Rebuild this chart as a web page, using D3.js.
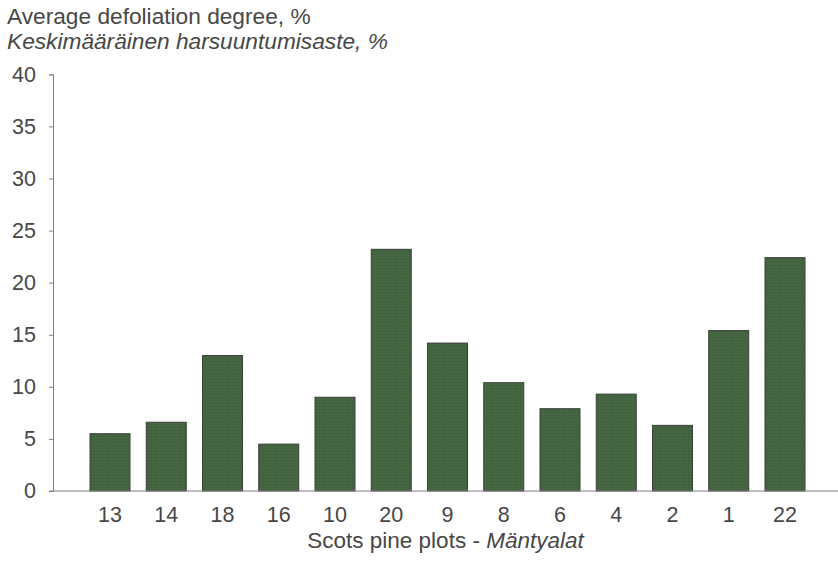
<!DOCTYPE html>
<html>
<head>
<meta charset="utf-8">
<script src="https://cdn.jsdelivr.net/npm/d3@7"></script>
<style>
  html, body { margin: 0; padding: 0; background: #fff; }
  svg { display: block; }
  text { font-family: "Liberation Sans", Arial, sans-serif; fill: #474747; }
</style>
</head>
<body>
<svg id="chart" width="838" height="562"></svg>
<script>
// Plot identifiers along the category axis
const plots = ["13", "14", "18", "16", "10", "20", "9", "8", "6", "4", "2", "1", "22"];
// Average defoliation degree (%) per plot
const defoliation = [5.5, 6.6, 13.0, 4.5, 9.0, 23.2, 14.2, 10.4, 7.9, 9.3, 6.3, 15.4, 22.4];
// Value axis ticks
const yTicks = [0, 5, 10, 15, 20, 25, 30, 35, 40];

const titleLines = ["Average defoliation degree, %", "Keskimääräinen harsuuntumisaste, %"];
const xTitle = "Scots pine plots - ";
const xTitleFi = "Mäntyalat";

const svg = d3.select("#chart");

const axisLeft = 53, axisRight = 838;
const y = d3.scaleLinear().domain([0, 40]).range([491, 74.3]);
const x = d3.scaleBand().domain(plots).range([73.75, 821.25]).padding(0.289);

// Fine dotted texture for the bars
const defs = svg.append("defs");
const pat = defs.append("pattern")
  .attr("id", "barTex").attr("patternUnits", "userSpaceOnUse")
  .attr("width", 3).attr("height", 3);
pat.append("rect").attr("width", 3).attr("height", 3).attr("fill", "#456640");
pat.append("rect").attr("x", 1).attr("y", 1).attr("width", 1).attr("height", 1).attr("fill", "#37553a");

// Titles
svg.append("text").attr("x", 7).attr("y", 24).style("font-size", "22.7px").text(titleLines[0]);
svg.append("text").attr("x", 7).attr("y", 48.5).style("font-size", "22.7px").style("font-style", "italic").text(titleLines[1]);

// Bars
svg.append("g").selectAll("rect")
  .data(plots.map((p, i) => ({ p, v: defoliation[i] })))
  .join("rect")
  .attr("x", d => x(d.p))
  .attr("width", x.bandwidth())
  .attr("y", d => y(d.v))
  .attr("height", d => y(0) - y(d.v))
  .attr("fill", "url(#barTex)")
  .attr("stroke", "#3a3f3a")
  .attr("stroke-width", 1);

// Value axis
const yAxis = svg.append("g")
  .attr("transform", `translate(${axisLeft},0)`)
  .call(d3.axisLeft(y).tickValues(yTicks).tickSize(4).tickPadding(13));
yAxis.select(".domain").attr("stroke", "#808080");
yAxis.selectAll(".tick line").attr("stroke", "#808080");
yAxis.selectAll(".tick text").style("font-size", "21.5px").style("font-family", "'Liberation Sans', Arial, sans-serif").attr("fill", "#474747");

// Category axis line spanning the whole plot
svg.append("line")
  .attr("x1", axisLeft - 4).attr("x2", axisRight)
  .attr("y1", y(0)).attr("y2", y(0))
  .attr("stroke", "#808080").attr("stroke-width", 1);

// Category labels
const xAxis = svg.append("g")
  .attr("transform", `translate(0,${y(0)})`)
  .call(d3.axisBottom(x).tickSize(0).tickPadding(16));
xAxis.select(".domain").remove();
xAxis.selectAll(".tick text").style("font-size", "21.5px").style("font-family", "'Liberation Sans', Arial, sans-serif").attr("fill", "#474747");

// Category axis title
const xt = svg.append("text")
  .attr("x", (axisLeft + axisRight) / 2).attr("y", 548)
  .attr("text-anchor", "middle").style("font-size", "22.5px");
xt.append("tspan").text(xTitle);
xt.append("tspan").style("font-style", "italic").text(xTitleFi);
</script>
</body>
</html>
